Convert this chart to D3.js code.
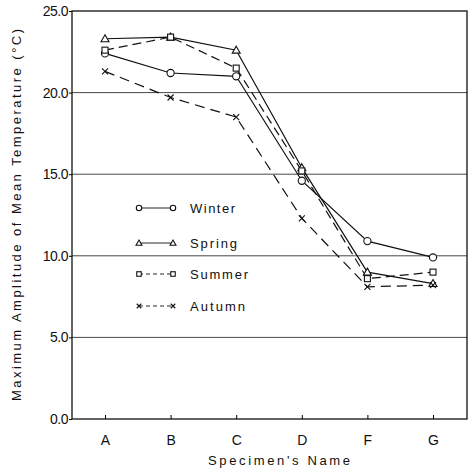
<!DOCTYPE html>
<html><head><meta charset="utf-8">
<script src="https://cdn.jsdelivr.net/npm/d3@7"></script>
<style>body{margin:0;background:#fff}svg{display:block}text{font-family:"Liberation Sans","DejaVu Sans",sans-serif;fill:#111}</style>
</head><body><svg id="c" width="470" height="473"></svg>
<script>
const categories = ["A","B","C","D","F","G"];
const winter = [22.4, 21.2, 21.0, 14.6, 10.9, 9.9];
const spring = [23.3, 23.4, 22.6, 15.4, 9.0, 8.3];
const summer = [22.6, 23.4, 21.5, 15.2, 8.6, 9.0];
const autumn = [21.3, 19.7, 18.5, 12.3, 8.1, 8.2];
const yTicks = [0, 5, 10, 15, 20, 25];
const seriesNames = ["Winter","Spring","Summer","Autumn"];

const svg = d3.select("#c");
const L = 72, R = 467, T = 11, B = 419;
const x = d3.scalePoint().domain(categories).range([105, 433]);
const y = d3.scaleLinear().domain([0, 25]).range([B, T]);

// grid
svg.append("g").selectAll("line").data(yTicks.filter(v => v > 0 && v < 25)).join("line")
  .attr("x1", L).attr("x2", R).attr("y1", d => y(d)).attr("y2", d => y(d))
  .attr("stroke", "#333").attr("stroke-width", 0.9);
// frame
svg.append("rect").attr("x", L).attr("y", T).attr("width", R - L).attr("height", B - T)
  .attr("fill", "none").attr("stroke", "#111").attr("stroke-width", 1.3);

const ya = svg.append("g").attr("transform", `translate(${L},0)`)
  .call(d3.axisLeft(y).tickValues(yTicks).tickFormat(d3.format(".1f")).tickSize(3).tickPadding(1));
ya.select(".domain").remove();
ya.selectAll("text").attr("font-size", 14).style("letter-spacing","-0.5px");
const xa = svg.append("g").attr("transform", `translate(0,${B})`)
  .call(d3.axisTop(x).tickSize(4).tickPadding(0));
xa.select(".domain").remove();
xa.selectAll("text").attr("font-size", 14).attr("y", 16).attr("dy", "0.71em");

svg.append("text").attr("x", 279).attr("y", 465).attr("text-anchor", "middle")
  .attr("font-size", 13).attr("textLength", 142).attr("lengthAdjust", "spacing")
  .text("Specimen's Name");
svg.append("text").attr("transform", "translate(21,215) rotate(-90)").attr("text-anchor", "middle")
  .attr("font-size", 13).attr("textLength", 372).attr("lengthAdjust", "spacing")
  .text("Maximum Amplitude of Mean Temperature (°C)");

const styles = {
  Winter: {data: winter, dash: null, mark: "circle"},
  Spring: {data: spring, dash: null, mark: "triangle"},
  Summer: {data: summer, dash: "9,5", mark: "square"},
  Autumn: {data: autumn, dash: "10,6", mark: "x"}
};
function drawMark(g, type, cx, cy, k) {
  if (type === "circle") g.append("circle").attr("cx", cx).attr("cy", cy).attr("r", 3.6*k).attr("fill", "#fff").attr("stroke", "#111").attr("stroke-width", 1.1);
  else if (type === "triangle") g.append("path").attr("d", `M${cx},${cy-4*k}L${cx+4*k},${cy+3*k}L${cx-4*k},${cy+3*k}Z`).attr("fill", "#fff").attr("stroke", "#111").attr("stroke-width", 1.1);
  else if (type === "square") g.append("rect").attr("x", cx-3*k).attr("y", cy-3*k).attr("width", 6*k).attr("height", 6*k).attr("fill", "#fff").attr("stroke", "#111").attr("stroke-width", 1.1);
  else g.append("path").attr("d", `M${cx-3*k},${cy-3*k}L${cx+3*k},${cy+3*k}M${cx+3*k},${cy-3*k}L${cx-3*k},${cy+3*k}`).attr("stroke", "#111").attr("stroke-width", 1.1);
}
const line = d3.line().x((d, i) => x(categories[i])).y(d => y(d));
seriesNames.forEach(n => {
  const s = styles[n];
  svg.append("path").attr("d", line(s.data)).attr("fill", "none").attr("stroke", "#111")
    .attr("stroke-width", 1.2).attr("stroke-dasharray", s.dash);
});
seriesNames.forEach(n => {
  const s = styles[n];
  const g = svg.append("g");
  s.data.forEach((v, i) => drawMark(g, s.mark, x(categories[i]), y(v), 1));
});

// legend
const legY = [208, 243, 274, 306];
const legW = [45, 47, 58, 55];
seriesNames.forEach((n, i) => {
  const s = styles[n];
  const g = svg.append("g");
  g.append("line").attr("x1", 139).attr("x2", 173).attr("y1", legY[i]).attr("y2", legY[i])
    .attr("stroke", "#111").attr("stroke-width", 0.9).attr("stroke-dasharray", s.dash ? "4,3" : null);
  drawMark(g, s.mark, 139, legY[i], 0.75);
  drawMark(g, s.mark, 173, legY[i], 0.75);
  g.append("text").attr("x", 190).attr("y", legY[i] + 5).attr("font-size", 13)
    .attr("textLength", legW[i]).attr("lengthAdjust", "spacing").text(n);
});
</script></body></html>
